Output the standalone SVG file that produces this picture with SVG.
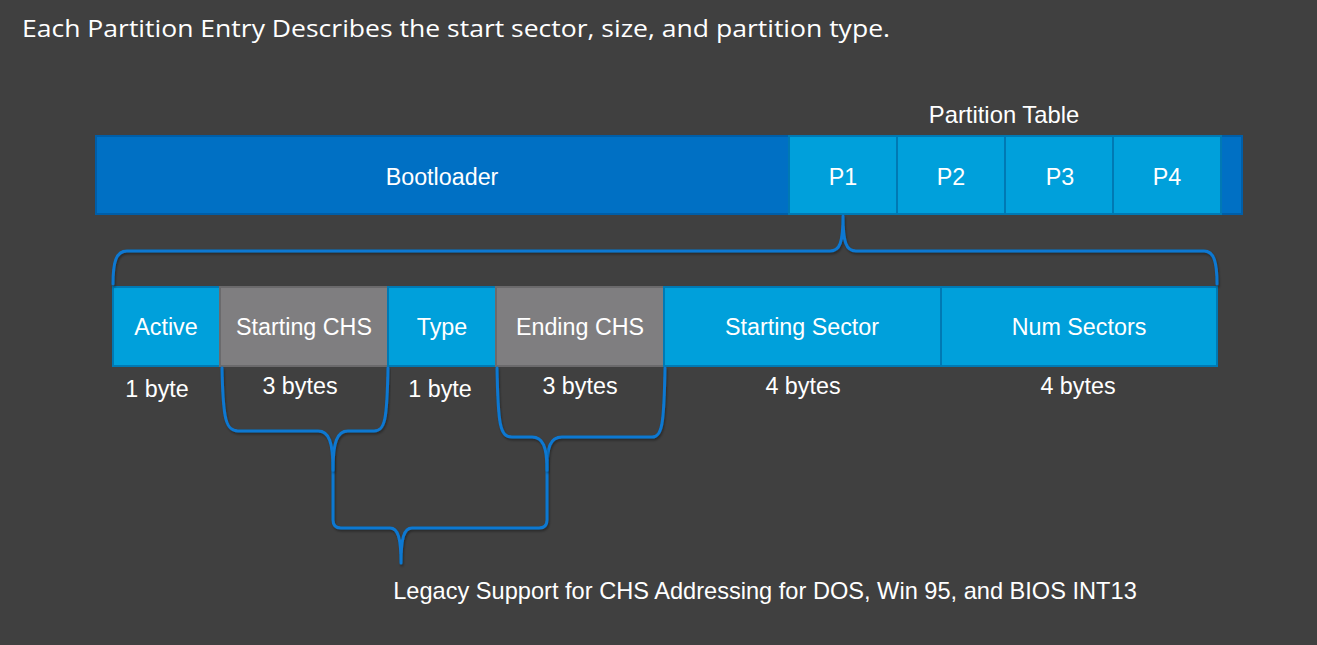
<svg xmlns="http://www.w3.org/2000/svg" width="1317" height="645" viewBox="0 0 1317 645">
<defs>
<style>
.t{font-family:"Liberation Sans",Arial,sans-serif;fill:#ffffff;text-anchor:middle}
.lbl{font-size:23.3px}
.boot{fill:#0070c4;stroke:#005ea8;stroke-width:2}
.p{fill:#00a0db;stroke:#0079b4;stroke-width:2}
.g{fill:#7f7e80;stroke:#6b6a6c;stroke-width:2}
.br{fill:none;stroke:#0a78d2;stroke-width:3;stroke-linejoin:round;stroke-linecap:round;filter:url(#sh)}
</style>
<filter id="sh" x="-5%" y="-5%" width="110%" height="120%">
<feDropShadow dx="1" dy="2" stdDeviation="1.2" flood-color="#000" flood-opacity="0.35"/>
</filter>
</defs>
<rect width="1317" height="645" fill="#404040"/>
<text x="22" y="37" font-family="'Open Sans','Noto Sans',sans-serif" font-size="23" fill="#ffffff" textLength="868" lengthAdjust="spacingAndGlyphs">Each Partition Entry Describes the start sector, size, and partition type.</text>
<text class="t" x="1004" y="123" font-size="23.8">Partition Table</text>

<g id="mbr">
<rect class="boot" x="96" y="136" width="1146" height="78"/>
<g id="bootloader"><rect class="boot" x="96" y="136" width="693" height="78"/><text class="t lbl" x="442" y="185">Bootloader</text></g>
<g id="p1"><rect class="p" x="789" y="136" width="108" height="78"/><text class="t lbl" x="843" y="185">P1</text></g>
<g id="p2"><rect class="p" x="897" y="136" width="108" height="78"/><text class="t lbl" x="951" y="185">P2</text></g>
<g id="p3"><rect class="p" x="1005" y="136" width="108" height="78"/><text class="t lbl" x="1060" y="185">P3</text></g>
<g id="p4"><rect class="p" x="1113" y="136" width="108" height="78"/><text class="t lbl" x="1167" y="185">P4</text></g>
</g>

<g id="entry">
<g id="active"><rect class="p" x="113" y="287" width="107" height="79"/><text class="t lbl" x="166" y="335">Active</text><text class="t lbl" x="157" y="397">1 byte</text></g>
<g id="startchs"><rect class="g" x="220" y="287" width="168" height="79"/><text class="t lbl" x="304" y="335">Starting CHS</text><text class="t lbl" x="300" y="394">3 bytes</text></g>
<g id="type"><rect class="p" x="388" y="287" width="108" height="79"/><text class="t lbl" x="442" y="335">Type</text><text class="t lbl" x="440" y="397">1 byte</text></g>
<g id="endchs"><rect class="g" x="496" y="287" width="168" height="79"/><text class="t lbl" x="580" y="335">Ending CHS</text><text class="t lbl" x="580" y="394">3 bytes</text></g>
<g id="startsector"><rect class="p" x="664" y="287" width="277" height="79"/><text class="t lbl" x="802" y="335">Starting Sector</text><text class="t lbl" x="803" y="394">4 bytes</text></g>
<g id="numsectors"><rect class="p" x="941" y="287" width="276" height="79"/><text class="t lbl" x="1079" y="335">Num Sectors</text><text class="t lbl" x="1078" y="394">4 bytes</text></g>
</g>

<g id="connectors">
<path class="br" d="M113,284 C113,262 116,251 127,251 L830,251 C840,251 843,242 843,216 C843,242 846,251 856,251 L1204,251 C1214,251 1217,262 1217,284"/>
<path class="br" d="M222,368 C223,420 226,431 238,431 L318,431 C329,431 333,442 333,470 L333,520 Q333,528 341,528 L390,528 C398,528 401,538 401,563 C401,538 404,528 412,528 L539,528 Q547,528 547,520 L547,470 C547,447 550,437 562,437 L652,437 C662,437 664,425 665,368"/>
<path class="br" d="M388,368 C387,420 385,431 374,431 L348,431 C337,431 333,442 333,470"/>
<path class="br" d="M497,368 C498,425 500,437 512,437 L532,437 C543,437 547,447 547,470"/>
</g>

<text class="t" x="765" y="599" font-size="23.6">Legacy Support for CHS Addressing for DOS, Win 95, and BIOS INT13</text>
</svg>
